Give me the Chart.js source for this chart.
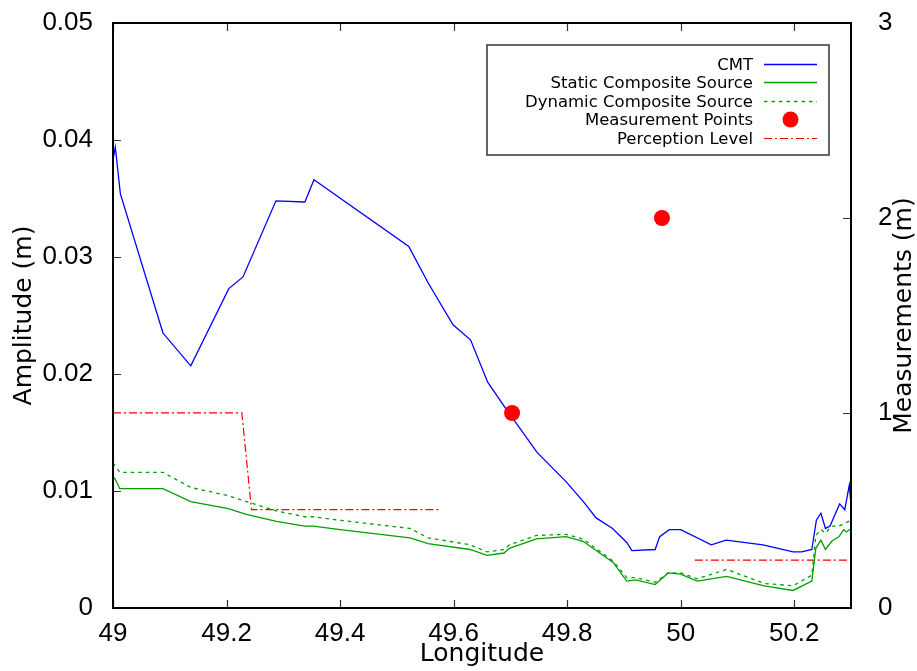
<!DOCTYPE html>
<html>
<head>
<meta charset="utf-8">
<script src="https://cdn.jsdelivr.net/npm/chart.js@4.4.1/dist/chart.umd.min.js"></script>
<style>
  html, body { margin: 0; padding: 0; background: #fff; }
  #wrap { width: 917px; height: 671px; }
</style>
</head>
<body>
<div id="wrap"><canvas id="chart" width="917" height="671"></canvas></div>
<script>
  'use strict';

  // axis ticks
  const xTicks = [49, 49.2, 49.4, 49.6, 49.8, 50, 50.2];
  const yTicks = [0, 0.01, 0.02, 0.03, 0.04, 0.05];
  const y2Ticks = [0, 1, 2, 3];

  // CMT amplitude along the track
  const cmtLon = [49.000, 49.004, 49.013, 49.088, 49.137, 49.204, 49.229, 49.287, 49.338, 49.354,
    49.521, 49.555, 49.599, 49.630, 49.660, 49.691, 49.747, 49.798, 49.830, 49.851,
    49.880, 49.905, 49.914, 49.955, 49.963, 49.980, 50.000, 50.054, 50.080, 50.145,
    50.198, 50.213, 50.231, 50.239, 50.247, 50.255, 50.263, 50.280, 50.289, 50.297, 50.300];
  const cmtAmp = [0.0383, 0.0394, 0.0354, 0.0235, 0.0207, 0.0273, 0.0283, 0.0348, 0.0347, 0.0366,
    0.0309, 0.0278, 0.0242, 0.0229, 0.0193, 0.0171, 0.0133, 0.0108, 0.0090, 0.0077,
    0.0068, 0.0056, 0.0049, 0.0050, 0.0061, 0.0067, 0.0067, 0.0054, 0.0058, 0.0054,
    0.0048, 0.0048, 0.0050, 0.0075, 0.0081, 0.0068, 0.0070, 0.0089, 0.0084, 0.0105, 0.0088];

  // static composite source
  const staticLon = [49.000, 49.003, 49.012, 49.088, 49.137, 49.203, 49.235, 49.288, 49.338, 49.353,
    49.400, 49.523, 49.555, 49.629, 49.659, 49.689, 49.698, 49.746, 49.798, 49.828,
    49.881, 49.905, 49.921, 49.955, 49.978, 50.000, 50.029, 50.081, 50.147, 50.198,
    50.231, 50.238, 50.247, 50.255, 50.266, 50.279, 50.287, 50.292, 50.300];
  const staticAmp = [0.0110, 0.0111, 0.0102, 0.0102, 0.0091, 0.0085, 0.0080, 0.0074, 0.0070, 0.0070,
    0.0067, 0.0060, 0.0055, 0.0050, 0.0045, 0.0047, 0.0051, 0.0059, 0.0061, 0.0057,
    0.0039, 0.0023, 0.0024, 0.0020, 0.0030, 0.0029, 0.0023, 0.0027, 0.0019, 0.0015,
    0.0023, 0.0051, 0.0058, 0.0050, 0.0057, 0.0061, 0.0067, 0.0065, 0.0068];

  // dynamic composite source
  const dynamicLon = [49.000, 49.012, 49.088, 49.137, 49.203, 49.235, 49.288, 49.338, 49.353, 49.400,
    49.523, 49.555, 49.629, 49.659, 49.689, 49.698, 49.746, 49.798, 49.828, 49.881,
    49.905, 49.921, 49.955, 49.978, 50.000, 50.029, 50.081, 50.147, 50.198, 50.231,
    50.238, 50.247, 50.255, 50.266, 50.279, 50.287, 50.300];
  const dynamicAmp = [0.0124, 0.0116, 0.0116, 0.0103, 0.0096, 0.0091, 0.0083, 0.0078, 0.0078, 0.0075,
    0.0068, 0.0060, 0.0054, 0.0048, 0.0050, 0.0054, 0.0062, 0.0063, 0.0059, 0.0040,
    0.0026, 0.0026, 0.0022, 0.0030, 0.0030, 0.0025, 0.0033, 0.0021, 0.0019, 0.0028,
    0.0062, 0.0067, 0.0064, 0.0070, 0.0070, 0.0072, 0.0075];

  // measured values (right axis)
  const measLon = [49.703, 49.967];
  const measValue = [1, 2];

  // perception level, null = gap between the two stretches
  const percLon = [49.000, 49.227, 49.244, 49.577, 49.800, 50.025, 50.300];
  const percAmp = [0.01667, 0.01667, 0.0084, 0.0084, null, 0.0041, 0.0041];

  const xy = (xs, ys) => xs.map((x, i) => ({ x, y: ys[i] }));
  const fmt = (v) => String(Number(v.toFixed(3)));
  const tickFont = { family: '"Liberation Sans", Arial, sans-serif', size: 26 };

  // fixed axis band sizes; drop the label overhang so the plot keeps its frame
  const fitVertical = (width) => (s) => { s.width = width; s.paddingTop = 0; s.paddingBottom = 0; };
  const fitHorizontal = (height) => (s) => { s.height = height; s.paddingLeft = 0; s.paddingRight = 0; };

  // frame with inward ticks, x ticks mirrored on top
  const frameTicks = {
    id: 'frameTicks',
    afterDatasetsDraw(chart) {
      const { ctx, chartArea: a, scales } = chart;
      const len = 8;
      ctx.save();
      ctx.strokeStyle = '#333';
      ctx.lineWidth = 1.2;
      ctx.beginPath();
      scales.x.ticks.forEach((t) => {
        const px = Math.round(scales.x.getPixelForValue(t.value)) + 0.5;
        ctx.moveTo(px, a.bottom); ctx.lineTo(px, a.bottom - len);
        ctx.moveTo(px, a.top); ctx.lineTo(px, a.top + len);
      });
      scales.y.ticks.forEach((t) => {
        const py = Math.round(scales.y.getPixelForValue(t.value)) + 0.5;
        ctx.moveTo(a.left, py); ctx.lineTo(a.left + len, py);
      });
      scales.y2.ticks.forEach((t) => {
        const py = Math.round(scales.y2.getPixelForValue(t.value)) + 0.5;
        ctx.moveTo(a.right, py); ctx.lineTo(a.right - len, py);
      });
      ctx.stroke();
      ctx.strokeStyle = '#000';
      ctx.lineWidth = 2;
      ctx.strokeRect(a.left, a.top, a.right - a.left, a.bottom - a.top);
      ctx.restore();
    }
  };

  // axis titles (right one reads bottom to top as well)
  const axisTitles = {
    id: 'axisTitles',
    afterDraw(chart) {
      const { ctx, chartArea: a } = chart;
      const midY = (a.top + a.bottom) / 2;
      ctx.save();
      ctx.fillStyle = '#000';
      ctx.font = '25px "DejaVu Sans", sans-serif';
      ctx.textAlign = 'center';
      ctx.textBaseline = 'alphabetic';
      ctx.fillText('Longitude', (a.left + a.right) / 2, 661);
      [[31, 'Amplitude (m)'], [911, 'Measurements (m)']].forEach(([x, text]) => {
        ctx.save();
        ctx.translate(x, midY);
        ctx.rotate(-Math.PI / 2);
        ctx.fillText(text, 0, 0);
        ctx.restore();
      });
      ctx.restore();
    }
  };

  // boxed key, labels right-aligned with the sample to their right
  const keyBox = {
    id: 'keyBox',
    afterDraw(chart) {
      const { ctx, chartArea: a } = chart;
      const w = 342, h = 110;
      const right = a.right - 22, top = a.top + 22, left = right - w;
      ctx.save();
      ctx.fillStyle = '#fff';
      ctx.fillRect(left, top, w, h);
      ctx.strokeStyle = '#333';
      ctx.lineWidth = 1.5;
      ctx.strokeRect(left, top, w, h);
      ctx.font = '16.5px "DejaVu Sans", sans-serif';
      ctx.textAlign = 'right';
      ctx.textBaseline = 'middle';
      chart.data.datasets.forEach((ds, i) => {
        const y = Math.round(top + 19 + i * 18.4) + 0.5;
        ctx.fillStyle = '#000';
        ctx.fillText(ds.label, left + 266, y + 1);
        const x0 = left + 277, x1 = left + 330;
        if (ds.showLine === false) {
          ctx.fillStyle = ds.backgroundColor;
          ctx.beginPath();
          ctx.arc((x0 + x1) / 2, y, ds.pointRadius, 0, Math.PI * 2);
          ctx.fill();
        } else {
          ctx.strokeStyle = ds.borderColor;
          ctx.lineWidth = ds.borderWidth;
          ctx.setLineDash(ds.borderDash || []);
          ctx.beginPath();
          ctx.moveTo(x0, y); ctx.lineTo(x1, y);
          ctx.stroke();
          ctx.setLineDash([]);
        }
      });
      ctx.restore();
    }
  };

  const lineDs = (label, data, color, extra) => Object.assign({
    label, data, borderColor: color, backgroundColor: color, borderWidth: 1.3,
    pointRadius: 0, tension: 0, yAxisID: 'y', spanGaps: false
  }, extra);

  new Chart(document.getElementById('chart').getContext('2d'), {
    type: 'line',
    data: {
      datasets: [
        lineDs('CMT', xy(cmtLon, cmtAmp), '#0000ff', { order: 1 }),
        lineDs('Static Composite Source', xy(staticLon, staticAmp), '#00a000', { order: 2 }),
        lineDs('Dynamic Composite Source', xy(dynamicLon, dynamicAmp), '#00a000', { order: 3, borderDash: [3.5, 4] }),
        {
          label: 'Measurement Points', data: xy(measLon, measValue), yAxisID: 'y2',
          showLine: false, pointRadius: 8, pointHoverRadius: 8, borderWidth: 0,
          backgroundColor: '#ff0000', borderColor: '#ff0000', order: 0
        },
        lineDs('Perception Level', xy(percLon, percAmp), '#ff0000', { order: 4, borderWidth: 1.2, borderDash: [8, 3, 2, 3] })
      ]
    },
    options: {
      responsive: false,
      devicePixelRatio: 1,
      animation: false,
      layout: { padding: { top: 23, left: 0, right: 0, bottom: 0 } },
      plugins: { legend: { display: false }, tooltip: { enabled: false } },
      scales: {
        x: {
          type: 'linear', min: 49, max: 50.3,
          afterBuildTicks: (s) => { s.ticks = xTicks.map((v) => ({ value: v })); },
          afterFit: fitHorizontal(63),
          grid: { display: false }, border: { display: false },
          ticks: { font: tickFont, color: '#000', padding: 2, maxRotation: 0, autoSkip: false, callback: fmt }
        },
        y: {
          type: 'linear', position: 'left', min: 0, max: 0.05,
          afterBuildTicks: (s) => { s.ticks = yTicks.map((v) => ({ value: v })); },
          afterFit: fitVertical(113),
          grid: { display: false }, border: { display: false },
          ticks: { font: tickFont, color: '#000', padding: 12, callback: fmt }
        },
        y2: {
          type: 'linear', position: 'right', min: 0, max: 3,
          afterBuildTicks: (s) => { s.ticks = y2Ticks.map((v) => ({ value: v })); },
          afterFit: fitVertical(66),
          grid: { display: false }, border: { display: false },
          ticks: { font: tickFont, color: '#000', padding: 19, callback: fmt }
        }
      }
    },
    plugins: [frameTicks, axisTitles, keyBox]
  });
</script>
</body>
</html>
